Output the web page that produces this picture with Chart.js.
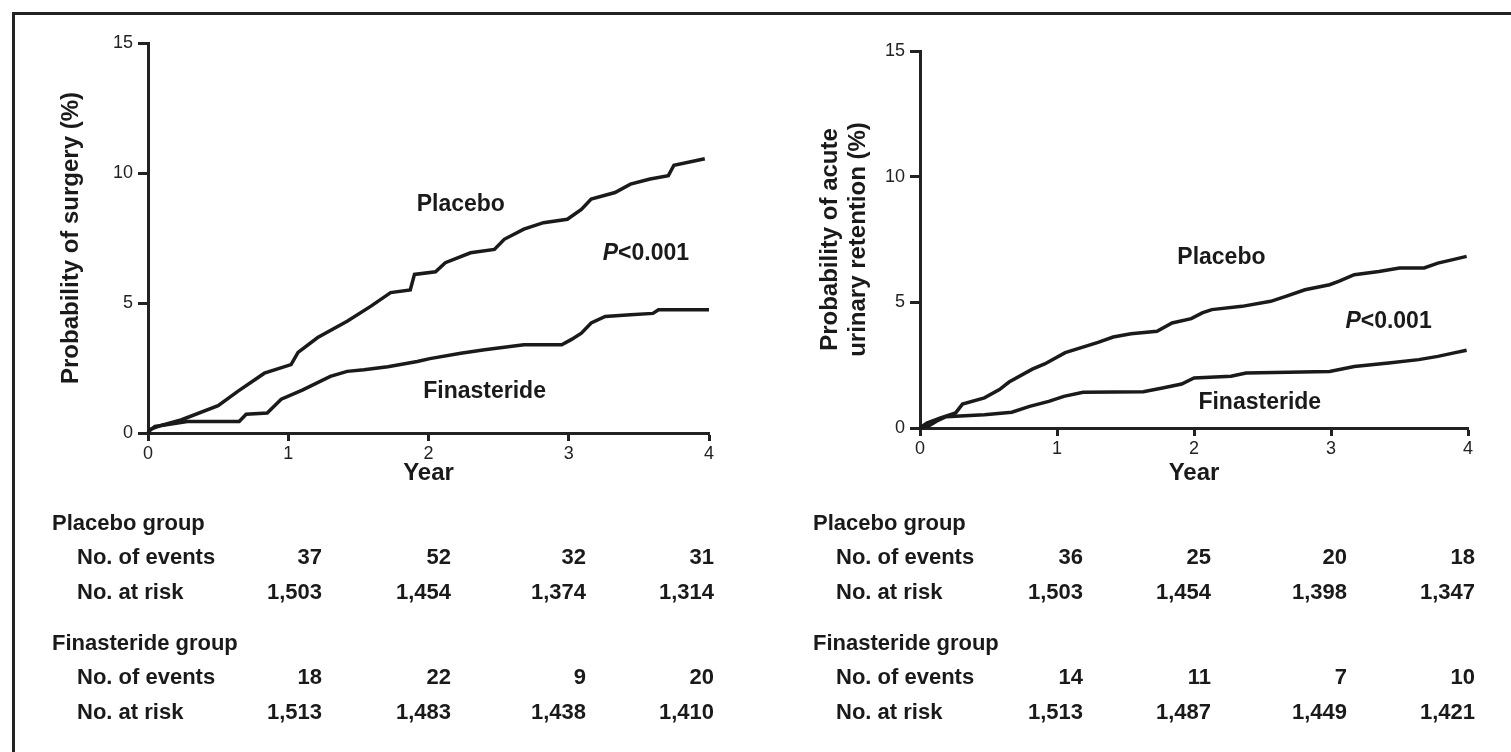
<!DOCTYPE html>
<html>
<head>
<meta charset="utf-8">
<script src="https://cdn.jsdelivr.net/npm/chart.js@4.4.1/dist/chart.umd.min.js"></script>
<style>
  body { margin: 0; background: #fff; width: 1511px; height: 752px; overflow: hidden; position: relative;
         font-family: 'Liberation Sans', Arial, Helvetica, sans-serif; color: #1a1a1a; }
  .frame { position: absolute; left: 12px; top: 12px; width: 1600px; height: 800px;
           border-left: 3px solid #222; border-top: 3px solid #222; }
  canvas { position: absolute; top: 0; }
  .cell { position: absolute; font-size: 22px; font-weight: bold; line-height: 26px; white-space: nowrap; }
  .num { text-align: right; width: 120px; }
</style>
</head>
<body>
<div class="frame"></div>
<canvas id="surgeryChart" width="760" height="520" style="left:0"></canvas>
<canvas id="retentionChart" width="751" height="520" style="left:760px"></canvas>
<div id="tables"></div>
<script>
// --- data (year, cumulative probability %) ---
const surgeryPlacebo = [
  [0, 0], [0.02, 0.15], [0.1, 0.3], [0.235, 0.5], [0.5, 1.05], [0.64, 1.6], [0.83, 2.3], [1.02, 2.63],
  [1.07, 3.1], [1.21, 3.67], [1.42, 4.3], [1.59, 4.88], [1.73, 5.4], [1.87, 5.5], [1.9, 6.1],
  [2.05, 6.2], [2.12, 6.55], [2.3, 6.93], [2.47, 7.06], [2.54, 7.45], [2.68, 7.84], [2.82, 8.09],
  [2.99, 8.22], [3.09, 8.6], [3.16, 9.0], [3.33, 9.25], [3.44, 9.57], [3.58, 9.77], [3.71, 9.9],
  [3.75, 10.3], [3.97, 10.55]
];
const surgeryFinasteride = [
  [0, 0.05], [0.05, 0.25], [0.28, 0.44], [0.65, 0.44], [0.7, 0.72], [0.85, 0.77], [0.95, 1.3],
  [1.1, 1.65], [1.3, 2.18], [1.42, 2.37], [1.54, 2.43], [1.71, 2.55], [1.92, 2.75], [2.01, 2.86],
  [2.23, 3.07], [2.4, 3.2], [2.68, 3.39], [2.95, 3.39], [3.02, 3.6], [3.09, 3.84], [3.16, 4.23],
  [3.26, 4.48], [3.44, 4.55], [3.6, 4.6], [3.64, 4.74], [4.0, 4.74]
];
const retentionPlacebo = [
  [0, 0], [0.05, 0.2], [0.15, 0.4], [0.26, 0.6], [0.31, 0.95], [0.47, 1.2], [0.58, 1.53], [0.65, 1.83],
  [0.82, 2.34], [0.91, 2.55], [1.06, 3.0], [1.3, 3.41], [1.41, 3.62], [1.54, 3.75], [1.73, 3.85],
  [1.84, 4.18], [1.98, 4.35], [2.06, 4.58], [2.13, 4.71], [2.35, 4.84], [2.56, 5.04], [2.67, 5.24],
  [2.81, 5.5], [2.99, 5.7], [3.06, 5.84], [3.17, 6.1], [3.35, 6.23], [3.5, 6.37], [3.68, 6.37],
  [3.78, 6.56], [3.89, 6.7], [3.99, 6.83]
];
const retentionFinasteride = [
  [0, 0], [0.07, 0.1], [0.12, 0.27], [0.19, 0.45], [0.47, 0.53], [0.67, 0.63], [0.8, 0.86],
  [0.94, 1.06], [1.05, 1.26], [1.19, 1.42], [1.63, 1.44], [1.77, 1.59], [1.91, 1.75], [2.0, 1.99],
  [2.27, 2.06], [2.38, 2.19], [2.99, 2.25], [3.17, 2.45], [3.42, 2.59], [3.64, 2.72], [3.78, 2.85],
  [3.89, 2.98], [3.99, 3.09]
];

// --- numbers under the plots ---
const surgeryPlaceboEvents = [37, 52, 32, 31];
const surgeryPlaceboAtRisk = [1503, 1454, 1374, 1314];
const surgeryFinasterideEvents = [18, 22, 9, 20];
const surgeryFinasterideAtRisk = [1513, 1483, 1438, 1410];
const retentionPlaceboEvents = [36, 25, 20, 18];
const retentionPlaceboAtRisk = [1503, 1454, 1398, 1347];
const retentionFinasterideEvents = [14, 11, 7, 10];
const retentionFinasterideAtRisk = [1513, 1487, 1449, 1421];

const yearTicks = [0, 1, 2, 3, 4];
const probTicks = [0, 5, 10, 15];

const FONT = "'Liberation Sans', Arial, Helvetica, sans-serif";
const INK = '#1a1a1a';
Chart.defaults.font.family = FONT;

// text labels placed in data units on the plot
const textLabels = {
  id: 'textLabels',
  afterDatasetsDraw(chart, args, opts) {
    const { ctx, scales: { x, y } } = chart;
    ctx.save();
    ctx.fillStyle = INK;
    ctx.textBaseline = 'middle';
    opts.items.forEach(it => {
      const px = x.getPixelForValue(it.x);
      const py = y.getPixelForValue(it.y);
      if (it.pValue) {
        ctx.font = `italic bold 23px ${FONT}`;
        const w1 = ctx.measureText('P').width;
        ctx.font = `bold 23px ${FONT}`;
        const w2 = ctx.measureText(it.text).width;
        const start = px - (w1 + w2) / 2;
        ctx.textAlign = 'left';
        ctx.font = `italic bold 23px ${FONT}`;
        ctx.fillText('P', start, py);
        ctx.font = `bold 23px ${FONT}`;
        ctx.fillText(it.text, start + w1, py);
      } else {
        ctx.textAlign = 'center';
        ctx.font = `bold 23px ${FONT}`;
        ctx.fillText(it.text, px, py);
      }
    });
    ctx.restore();
  }
};

function toPoints(arr) { return arr.map(p => ({ x: p[0], y: p[1] })); }

function makeChart(id, placebo, finasteride, yTitle, box, labels) {
  const lineStyle = { borderColor: INK, borderWidth: 3.5, pointRadius: 0, tension: 0, fill: false, clip: 6 };
  return new Chart(document.getElementById(id), {
    type: 'line',
    data: {
      datasets: [
        { label: 'Placebo', data: toPoints(placebo), ...lineStyle },
        { label: 'Finasteride', data: toPoints(finasteride), ...lineStyle }
      ]
    },
    options: {
      responsive: false,
      animation: false,
      layout: { padding: { left: 0, top: box.top, right: box.right, bottom: 0 } },
      plugins: { legend: { display: false }, tooltip: { enabled: false }, textLabels: { items: labels } },
      scales: {
        x: {
          type: 'linear', min: 0, max: 4,
          afterFit(s) { s.height = box.xHeight; },
          afterBuildTicks(s) { s.ticks = yearTicks.map(v => ({ value: v })); },
          border: { display: true, color: '#222', width: 3 },
          grid: { drawOnChartArea: false, drawTicks: true, tickLength: 8, tickWidth: 3, color: '#222' },
          ticks: { color: '#222', font: { size: 18 }, padding: 2, maxRotation: 0 },
          title: { display: true, text: 'Year', color: INK, font: { size: 24, weight: 'bold' },
                   padding: { top: 0, bottom: box.yearPad } }
        },
        y: {
          min: 0, max: 15,
          afterFit(s) { s.width = box.yWidth; },
          afterBuildTicks(s) { s.ticks = probTicks.map(v => ({ value: v })); },
          border: { display: true, color: '#222', width: 3 },
          grid: { drawOnChartArea: false, drawTicks: true, tickLength: 10, tickWidth: 3, color: '#222' },
          ticks: { color: '#222', font: { size: 18 }, padding: 5 },
          title: { display: true, text: yTitle, color: INK, font: { size: 24, weight: 'bold', lineHeight: 1.15 },
                   padding: { top: box.titlePad, bottom: 0 } }
        }
      }
    },
    plugins: [textLabels]
  });
}

makeChart('surgeryChart', surgeryPlacebo, surgeryFinasteride, 'Probability of surgery (%)',
  { top: 43, right: 51, xHeight: 87, yWidth: 148, titlePad: 58, yearPad: 32 },
  [
    { text: 'Placebo', x: 2.23, y: 8.77 },
    { text: '<0.001', x: 3.55, y: 6.88, pValue: true },
    { text: 'Finasteride', x: 2.40, y: 1.58 }
  ]);

makeChart('retentionChart', retentionPlacebo, retentionFinasteride,
  ['Probability of acute', 'urinary retention (%)'],
  { top: 51, right: 43, xHeight: 92, yWidth: 160, titlePad: 57, yearPad: 32 },
  [
    { text: 'Placebo', x: 2.2, y: 6.76 },
    { text: '<0.001', x: 3.42, y: 4.22, pValue: true },
    { text: 'Finasteride', x: 2.48, y: 1.0 }
  ]);

// --- risk tables ---
const tables = document.getElementById('tables');
const rowY = [523, 557, 592, 643, 677, 712];
function cell(text, left, top, cls) {
  const d = document.createElement('div');
  d.className = 'cell' + (cls ? ' ' + cls : '');
  d.textContent = text;
  d.style.left = left + 'px';
  d.style.top = (top - 13) + 'px';
  tables.appendChild(d);
}
function riskTable(groupX, labelX, colRight, rows) {
  cell('Placebo group', groupX, rowY[0]);
  cell('No. of events', labelX, rowY[1]);
  cell('No. at risk', labelX, rowY[2]);
  cell('Finasteride group', groupX, rowY[3]);
  cell('No. of events', labelX, rowY[4]);
  cell('No. at risk', labelX, rowY[5]);
  const yIdx = [1, 2, 4, 5];
  rows.forEach((vals, r) => {
    vals.forEach((v, c) => cell(v.toLocaleString('en-US'), colRight[c] - 120, rowY[yIdx[r]], 'num'));
  });
}
riskTable(52, 77, [322, 451, 586, 714],
  [surgeryPlaceboEvents, surgeryPlaceboAtRisk, surgeryFinasterideEvents, surgeryFinasterideAtRisk]);
riskTable(813, 836, [1083, 1211, 1347, 1475],
  [retentionPlaceboEvents, retentionPlaceboAtRisk, retentionFinasterideEvents, retentionFinasterideAtRisk]);
</script>
</body>
</html>
